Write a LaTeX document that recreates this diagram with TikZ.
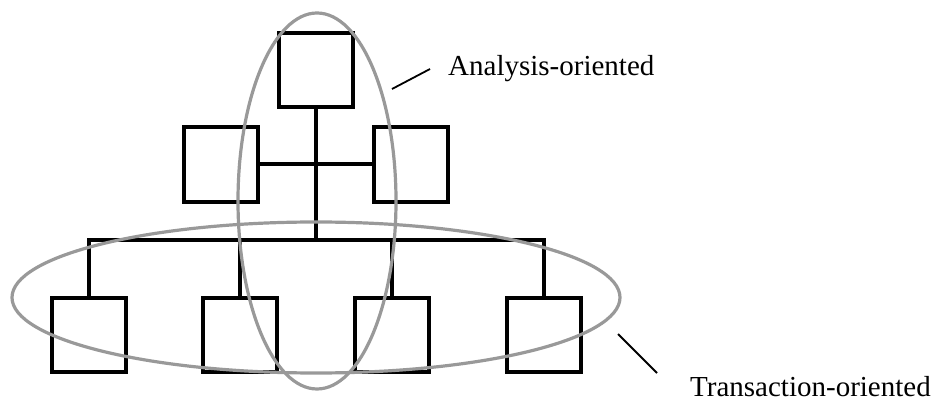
\documentclass[tikz,border=0pt]{standalone}
\usepackage{fontspec}
\setmainfont{Liberation Serif}
\begin{document}
\begin{tikzpicture}[x=1pt,y=-1pt,
  boxnode/.style={draw=black,line width=4pt,minimum size=74.5pt,inner sep=0pt,rectangle},
  link/.style={draw=black,line width=4pt,line join=miter},
  ring/.style={draw=black!40,line width=3.2pt},
  leader/.style={draw=black,line width=1.8pt},
  lbl/.style={inner sep=0pt,anchor=base west,font=\fontsize{29}{34}\selectfont}]
\useasboundingbox (0,0) rectangle (943,403);
\node[boxnode] (top) at (316,70) {};
\node[boxnode] (ml) at (221,164.5) {};
\node[boxnode] (mr) at (411,164.5) {};
\node[boxnode] (b1) at (89,335) {};
\node[boxnode] (b2) at (240,335) {};
\node[boxnode] (b3) at (392,335) {};
\node[boxnode] (b4) at (544,335) {};
\coordinate (bus) at (316,240);
\draw[link] (top.south) -- (bus);
\draw[link] (ml.east) -- (mr.west);
\draw[link] (b1.north) |- (bus) -| (b4.north);
\draw[link] (b2.north) -- (b2.north |- bus);
\draw[link] (b3.north) -- (b3.north |- bus);
\node[lbl] (ta) at (448,76) {Analysis-oriented};
\node[lbl] (tt) at (690,397) {Transaction-oriented};
\coordinate (la1) at (392,89);
\coordinate (la2) at (430,69);
\coordinate (lt1) at (618,334);
\coordinate (lt2) at (657,373);
\draw[leader] (la1) -- (la2);
\draw[leader] (lt1) -- (lt2);
\draw[ring] (317,201) ellipse [x radius=79pt, y radius=188pt];
\draw[ring] (316,297.5) ellipse [x radius=304pt, y radius=75.5pt];
\end{tikzpicture}
\end{document}
